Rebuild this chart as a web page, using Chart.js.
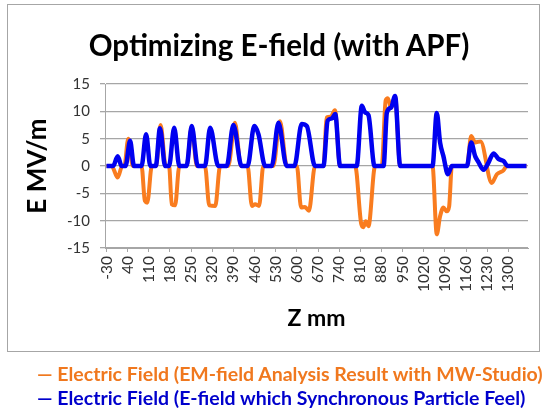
<!DOCTYPE html>
<html>
<head>
<meta charset="utf-8">
<title>Optimizing E-field (with APF)</title>
<script src="https://cdn.jsdelivr.net/npm/chart.js@4.4.1/dist/chart.umd.min.js"></script>
<style>
  html, body { margin: 0; padding: 0; background: #fff; }
  #wrap { position: relative; width: 547px; height: 408px; overflow: hidden; }
  #frame { position: absolute; left: 7px; top: 4px; width: 533px; height: 348px; border: 1px solid #a6a6a6; box-sizing: border-box; }
  canvas { position: absolute; left: 0; top: 0; }
  #chartTitle { position: absolute; left: 0; top: 27px; width: 558px; text-align: center; font: bold 29.5px/36px Lato, sans-serif; color: #000; white-space: nowrap; }
  .legend-line { position: absolute; left: 37px; font: bold 19.5px Lato, sans-serif; white-space: nowrap; }
</style>
</head>
<body>
<div id="wrap">
  <div id="frame"></div>
  <canvas id="lineChart" width="547" height="408"></canvas>
  <div id="chartTitle">Optimizing E-field (with APF)</div>
  <div class="legend-line" style="top:362px; color:#F0781E;">— Electric Field (EM-field Analysis Result with MW-Studio)</div>
  <div class="legend-line" style="top:386px; color:#0000CC;">— Electric Field (E-field which Synchronous Particle Feel)</div>
</div>
<script>
// Z positions (mm) and field values (MV/m)
const zOrange = [-30, -13, 7, 22, 29, 42, 57, 86, 97, 105, 120, 134, 149, 166, 177, 186, 197, 211, 235, 252, 269,
  296, 310, 330, 346, 373, 395, 415, 437, 451, 462, 475, 489, 522, 544, 567, 600, 614, 627, 640, 660,
  688, 699, 712, 726, 743, 793, 813, 820, 828, 837, 859, 881, 894, 901, 912, 925, 942,
  1049, 1063, 1074, 1085, 1096, 1104, 1113, 1163, 1177, 1190, 1208, 1245, 1262, 1284, 1295, 1360];
const eOrange = [0, 0, -2.1, 0, 0, 5.0, 0, 0, -6.4, -6.7, 0, 0, 7.5, 0, 0, -7.0, -7.2, 0, 0, 7.2, 0,
  0, -7.2, -7.3, 0, 0, 7.9, 0, 0, -7.3, -7.0, -7.3, 0, 0, 8.2, 0, 0, -7.6, -7.5, -8.2, 0,
  0, 8.9, 9.0, 10.2, 0, 0, -10.6, -11.2, -10.1, -11.0, 0, 0, 12.0, 12.4, 10.6, 12.7, 0,
  0, -12.5, -9.2, -7.6, -8.3, -7.4, 0, 0, 5.5, 4.3, 4.5, -3.1, -1.5, -0.8, 0, 0];

const zBlue = [-30, -8, 7, 20, 33, 48, 61, 86, 101, 115, 133, 147, 164, 177, 194, 211, 235, 252, 272,
  296, 313, 340, 368, 390, 417, 437, 459, 473, 495, 517, 539, 566, 592, 616, 633, 660,
  688, 702, 716, 727, 743, 798, 815, 826, 837, 857, 887, 898, 912, 925, 942,
  1049, 1063, 1074, 1085, 1100, 1113, 1163, 1177, 1190, 1201, 1218, 1234, 1251, 1267, 1284, 1298, 1360];
const eBlue = [0, 0, 1.8, 0, 0, 4.6, 0, 0, 5.8, 0, 0, 6.9, 0, 0, 7.0, 0, 0, 7.3, 0,
  0, 7.0, 0, 0, 7.5, 0, 0, 7.3, 5.8, 0, 0, 7.9, 0, 0, 7.7, 7.3, 0,
  0, 8.3, 8.7, 9.5, 0, 0, 11.0, 9.8, 9.3, 0, 0, 9.8, 10.7, 12.8, 0,
  0, 9.7, 4.3, 1.8, -1.5, 0, 0, 4.3, 1.8, 0.7, -0.7, 0.6, 2.3, 1.3, 0.9, 0, 0];

const zTicks = [-30, 40, 110, 180, 250, 320, 390, 460, 530, 600, 670, 740, 810, 880, 950, 1020, 1090, 1160, 1230, 1300];

const toPoints = (xs, ys) => xs.map((x, i) => ({ x: x, y: ys[i] }));

document.addEventListener("DOMContentLoaded", () => {
  const ctx = document.getElementById("lineChart").getContext("2d");
  new Chart(ctx, {
    type: "line",
    data: {
      datasets: [{
        label: "Electric Field (EM-field Analysis Result with MW-Studio)",
        data: toPoints(zOrange, eOrange),
        borderColor: "#F97C1F",
        borderWidth: 4,
        pointRadius: 0,
        cubicInterpolationMode: "monotone",
        order: 2
      }, {
        label: "Electric Field (E-field which Synchronous Particle Feel)",
        data: toPoints(zBlue, eBlue),
        borderColor: "#0000F0",
        borderWidth: 4.5,
        pointRadius: 0,
        cubicInterpolationMode: "monotone",
        order: 1
      }]
    },
    options: {
      responsive: false,
      animation: false,
      layout: { padding: { left: 7, right: 19, top: 84, bottom: 56 } },
      plugins: {
        legend: { display: false },
        tooltip: { enabled: false },
        title: { display: false }
      },
      scales: {
        x: {
          type: "linear",
          min: -35,
          max: 1365,
          afterBuildTicks: scale => { scale.ticks = zTicks.map(v => ({ value: v })); },
          afterFit: scale => { scale.height = 104; },
          ticks: {
            autoSkip: false,
            maxRotation: 90,
            minRotation: 90,
            color: "#333",
            font: { family: "Lato", size: 15.5 },
            padding: 4,
            callback: v => String(v)
          },
          grid: { drawOnChartArea: false, drawTicks: true, tickLength: 4, color: "#a6a6a6" },
          border: { display: true, color: "#a6a6a6" },
          title: {
            display: true,
            text: "Z mm",
            color: "#000",
            font: { family: "Lato", size: 23, weight: "bold" },
            padding: { top: 0, bottom: 20 }
          }
        },
        y: {
          min: -15,
          max: 15,
          afterFit: scale => { scale.width = 98; },
          ticks: {
            stepSize: 5,
            color: "#333",
            font: { family: "Lato", size: 15 },
            padding: 10
          },
          grid: { color: "#a6a6a6", lineWidth: 1.3, tickLength: 5 },
          border: { display: true, color: "#a6a6a6" },
          title: {
            display: true,
            text: "E MV/m",
            color: "#000",
            font: { family: "Lato", size: 26, weight: "bold" },
            padding: { top: 15.4, bottom: 0 }
          }
        }
      }
    }
  });
});
</script>
</body>
</html>
